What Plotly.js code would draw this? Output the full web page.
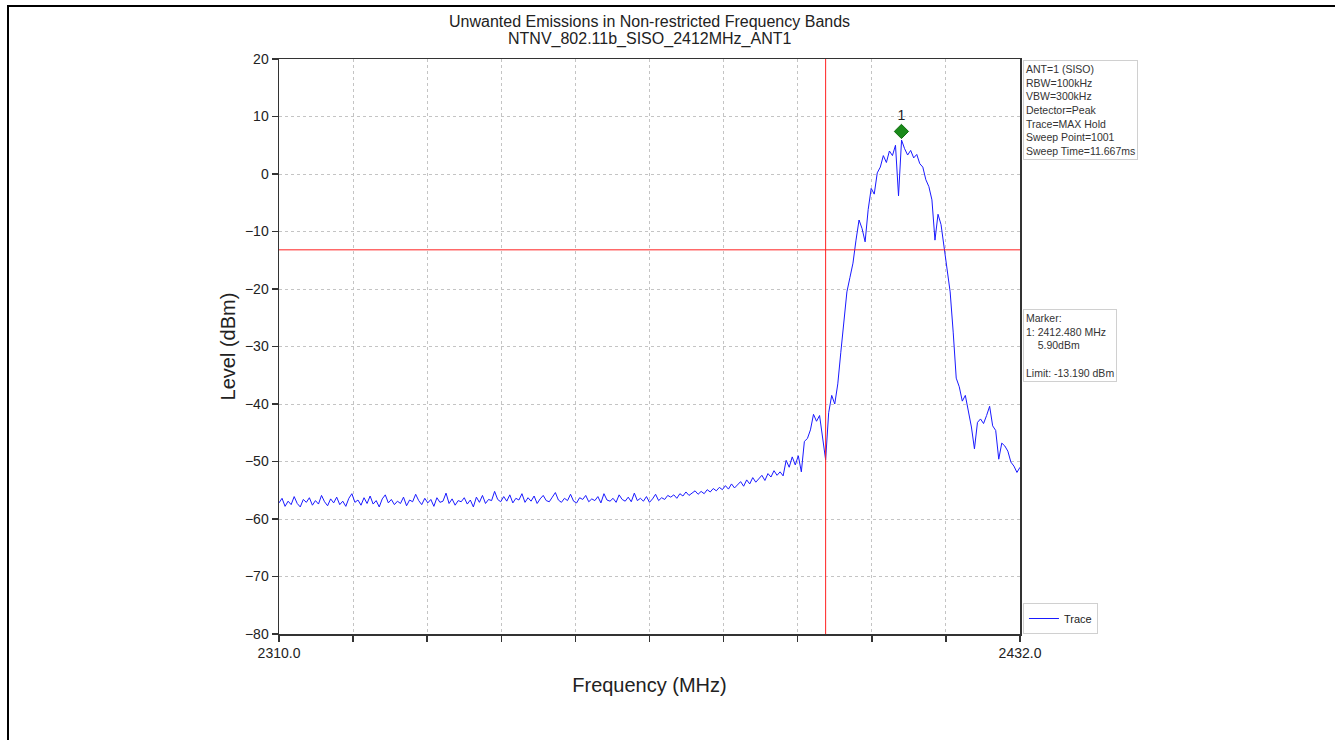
<!DOCTYPE html>
<html>
<head>
<meta charset="utf-8">
<script src="https://cdn.plot.ly/plotly-3.0.1.min.js"></script>
<style>
html,body{margin:0;padding:0;background:#fff;}
#frame{position:absolute;left:7px;top:5px;width:1400px;height:800px;border-top:2.5px solid #000;border-left:2.5px solid #000;}
#chart{position:absolute;left:0;top:0;width:1335px;height:740px;}
</style>
</head>
<body>
<div id="frame"></div>
<div id="chart"></div>
<script>
// ---- data ----
const titleLines = ["Unwanted Emissions in Non-restricted Frequency Bands", "NTNV_802.11b_SISO_2412MHz_ANT1"];
const freqStart = 2310.0;     // MHz
const freqStop = 2432.0;      // MHz
const freqStep = 0.5;         // MHz between plotted samples
const xTickVals = [2310.0, 2322.2, 2334.4, 2346.6, 2358.8, 2371.0, 2383.2, 2395.4, 2407.6, 2419.8, 2432.0];
const xTickText = ["2310.0", "", "", "", "", "", "", "", "", "", "2432.0"];
const yTickVals = [20, 10, 0, -10, -20, -30, -40, -50, -60, -70, -80];
const limitLevel = -13.19;    // dBm
const bandEdge = 2400.0;      // MHz
const markerFreq = [2412.48];
const markerLevel = [7.4];
const markerLabel = ["1"];
const infoText = ["ANT=1 (SISO)", "RBW=100kHz", "VBW=300kHz", "Detector=Peak", "Trace=MAX Hold", "Sweep Point=1001", "Sweep Time=11.667ms"];
const markerText = ["Marker:", "1: 2412.480 MHz", "    5.90dBm", "", "Limit: -13.190 dBm"];

const levelNoiseA = [
-57.2,-56.4,-57.8,-56.9,-57.5,-56.1,-57.3,-57.9,-56.6,-57.1,
-56.3,-57.6,-56.8,-57.4,-55.9,-57.0,-57.7,-56.5,-57.2,-56.2,
-57.5,-56.9,-57.8,-56.4,-55.6,-57.1,-56.7,-57.6,-56.3,-57.3,
-56.0,-57.4,-56.8,-57.9,-56.5,-55.8,-57.2,-56.6,-57.5,-56.9,
-57.3,-56.2,-57.7,-56.7,-57.0,-55.7,-56.8,-57.5,-56.4,-57.2,
-56.6,-57.8,-56.3,-57.1,-56.9,-55.5,-57.3,-56.5,-57.6,-56.8,
-57.0,-56.3,-57.4,-56.7,-57.9,-56.2,-57.1,-55.9,-57.3,-56.6];
const levelNoiseB = [
-56.8,-55.2,-56.6,-57.0,-56.1,-56.9,-55.8,-57.2,-56.4,-56.7,
-55.6,-57.1,-56.3,-56.9,-56.0,-57.3,-56.5,-55.9,-56.8,-57.0,
-56.2,-55.4,-56.7,-57.1,-56.4,-56.8,-55.7,-56.9,-57.2,-56.3,
-56.6,-55.9,-57.0,-56.5,-56.8,-56.1,-57.2,-55.6,-56.7,-56.9,
-56.4,-57.1,-55.8,-56.6,-56.9,-56.2,-57.0,-55.5,-56.8,-56.4,
-56.9,-56.1,-57.1,-56.5,-55.7,-56.8,-56.3,-56.6,-55.9,-56.2,
-55.8,-56.4,-55.6,-56.0,-55.3,-55.9,-55.5,-55.1,-55.7,-55.2,
-55.6,-54.9,-55.3,-54.7,-55.1,-54.5,-54.9];
const levelSignal = [
-54.2,-54.8,-53.9,-54.6,-54.0,-53.5,-54.3,-53.2,-53.9,-52.8,
-53.6,-53.0,-52.4,-53.3,-52.1,-52.7,-51.6,-52.4,-51.8,-52.5,
-49.8,-51.0,-49.2,-50.6,-49.0,-51.8,-46.5,-46.0,-44.5,-41.8,
-43.0,-42.0,-45.5,-49.7,-41.5,-38.5,-40.0,-36.5,-31.0,-25.5,
-20.5,-18.0,-15.5,-11.5,-8.0,-9.5,-11.8,-6.2,-2.5,-3.5,
0.2,1.2,3.2,2.0,4.0,3.2,5.0,-3.8,5.9,4.4,
3.3,4.1,2.8,3.4,1.8,1.2,-1.0,-2.2,-4.5,-11.5,
-7.0,-8.8,-12.8,-16.5,-20.5,-27.5,-35.5,-37.0,-39.5,-38.5,
-41.0,-44.0,-47.8,-43.2,-42.6,-43.4,-42.0,-40.4,-43.8,-44.6,
-49.6,-46.8,-47.3,-48.2,-50.1,-50.8,-51.9,-51.0];
const levels = levelNoiseA.concat(levelNoiseB, levelSignal);

// ---- chart ----
const font = "Liberation Sans, Arial, sans-serif";
const traces = [
  {type:'scatter', mode:'lines', name:'Trace', x0:freqStart, dx:freqStep, y:levels,
   line:{color:'#1a1aff', width:1}, hoverinfo:'skip'},
  {type:'scatter', mode:'lines', x:[bandEdge, bandEdge], y:[-80, 20], showlegend:false,
   line:{color:'#ff2020', width:1}, hoverinfo:'skip'},
  {type:'scatter', mode:'lines', x:[freqStart, freqStop], y:[limitLevel, limitLevel], showlegend:false,
   line:{color:'#ff2020', width:1}, hoverinfo:'skip'},
  {type:'scatter', mode:'markers+text', x:markerFreq, y:markerLevel, text:markerLabel, showlegend:false,
   textposition:'top center', textfont:{family:font, size:14, color:'#222'},
   marker:{symbol:'diamond', size:11, color:'#1a8a1a', line:{color:'#0f6e0f', width:1}}, cliponaxis:false, hoverinfo:'skip'}
];

const gridStyle = {showgrid:true, gridcolor:'#c4c4c4', griddash:'3px,3px', gridwidth:1};
const layout = {
  width:1335, height:740,
  paper_bgcolor:'rgba(0,0,0,0)', plot_bgcolor:'#fff',
  margin:{l:279, r:315, t:59, b:106},
  font:{family:font, color:'#222'},
  xaxis:Object.assign({range:[freqStart, freqStop], tickmode:'array', tickvals:xTickVals, ticktext:xTickText,
         ticks:'outside', ticklen:6, tickwidth:1.5, tickcolor:'#333',
         showline:true, linecolor:'#333', linewidth:1.5, mirror:true, zeroline:false,
         tickfont:{family:font, size:14, color:'#222'},
         title:{text:'Frequency (MHz)', font:{family:font, size:20, color:'#222'}, standoff:17}}, gridStyle),
  yaxis:Object.assign({range:[-80, 20], tickmode:'array', tickvals:yTickVals,
         ticks:'outside', ticklen:6, tickwidth:1.5, tickcolor:'#333',
         showline:true, linecolor:'#333', linewidth:1.5, mirror:true, zeroline:false,
         tickfont:{family:font, size:14, color:'#222'},
         title:{text:'Level (dBm)', font:{family:font, size:20, color:'#222'}, standoff:4}}, gridStyle),
  showlegend:true,
  legend:{x:1.004, xanchor:'left', y:0.0, yanchor:'bottom', bgcolor:'#fff',
          bordercolor:'#d0d0d0', borderwidth:1, font:{family:font, size:11, color:'#222'},
          itemwidth:30, tracegroupgap:0},
  annotations:[
    {xref:'paper', yref:'paper', x:0.5, y:1, xanchor:'center', yanchor:'middle', yshift:38,
     text:titleLines[0], showarrow:false, font:{family:font, size:16, color:'#222'}},
    {xref:'paper', yref:'paper', x:0.5, y:1, xanchor:'center', yanchor:'middle', yshift:20,
     text:titleLines[1], showarrow:false, font:{family:font, size:16, color:'#222'}},
    {xref:'paper', yref:'paper', x:1.004, y:0.998, xanchor:'left', yanchor:'top', align:'left',
     text:infoText.join('<br>'), showarrow:false, bgcolor:'#fff', bordercolor:'#d0d0d0', borderwidth:1,
     borderpad:2, font:{family:font, size:10.5, color:'#333'}},
    {xref:'paper', yref:'paper', x:1.004, y:0.565, xanchor:'left', yanchor:'top', align:'left',
     text:markerText.map(s => s.replace(/^ +/, m => '&nbsp;'.repeat(m.length))).join('<br>'), showarrow:false,
     bgcolor:'#fff', bordercolor:'#d0d0d0', borderwidth:1,
     borderpad:2, font:{family:font, size:10.5, color:'#333'}}
  ]
};

Plotly.newPlot('chart', traces, layout, {displayModeBar:false, staticPlot:true});
</script>
</body>
</html>
